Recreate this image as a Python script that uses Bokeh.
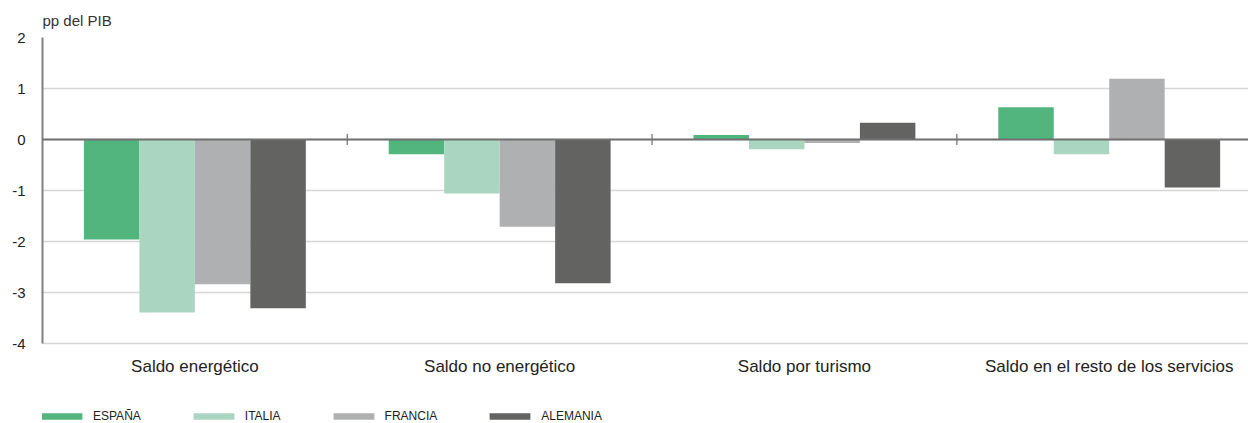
from bokeh.plotting import figure
from bokeh.models import (ColumnDataSource, FixedTicker, Span, Legend, LegendItem)
from bokeh.core.properties import value
from bokeh.embed import file_html
from bokeh.resources import INLINE

# ---------------- data ----------------
categories = ["Saldo energético", "Saldo no energético", "Saldo por turismo",
              "Saldo en el resto de los servicios"]
series_names = ["ESPAÑA", "ITALIA", "FRANCIA", "ALEMANIA"]
espana = [-1.96, -0.29, 0.09, 0.63]
italia = [-3.39, -1.06, -0.19, -0.29]
francia = [-2.84, -1.71, -0.07, 1.19]
alemania = [-3.31, -2.82, 0.33, -0.94]
y_ticks = [-4, -3, -2, -1, 0, 1, 2]
y_label = "pp del PIB"

colors = ["#52b57e", "#aad6c1", "#afb0b1", "#636361"]
series = [espana, italia, francia, alemania]

FONT = "Liberation Sans"

n_cat = len(categories)
bar_w = 0.182
centers = [i + 0.5 for i in range(n_cat)]
y_min, y_max = min(y_ticks), max(y_ticks)

# frame: 51 px per unit; extended below the axis to host labels + legend
px_per_unit = 51.0
frame_h = 386
y_start = y_max - frame_h / px_per_unit
label_y = y_min - 23 / px_per_unit

p = figure(frame_width=1206, frame_height=frame_h, output_backend="svg", toolbar_location=None,
           x_range=(0, 3.957), y_range=(y_start, y_max),
           min_border_left=42, min_border_right=0, min_border_top=37,
           min_border_bottom=0, x_axis_location=None, y_axis_location="left")
p.outline_line_color = None
p.background_fill_color = "white"
p.border_fill_color = "white"

# title
p.title.text = y_label
p.title.align = "left"
p.title.text_font = FONT
p.title.text_font_size = "15px"
p.title.text_font_style = "normal"
p.title.text_color = "#333333"
p.title.standoff = 17

# y axis
yax = p.yaxis[0]
yax.ticker = FixedTicker(ticks=y_ticks)
yax.bounds = (y_min, y_max)
yax.major_label_overrides = {t: str(t) for t in y_ticks}
yax.axis_line_color = "#808080"
yax.axis_line_width = 2
yax.major_tick_line_color = None
yax.major_tick_out = 0
yax.major_tick_in = 0
yax.minor_tick_line_color = None
yax.major_label_text_font = FONT
yax.major_label_text_font_size = "15px"
yax.major_label_text_color = "#222222"
yax.major_label_standoff = 17

p.ygrid.ticker = FixedTicker(ticks=y_ticks)
p.ygrid.grid_line_color = "#d6d6d6"
p.ygrid.grid_line_width = 1.5
p.xgrid.grid_line_color = None

# bars
renderers = []
for k, (vals, col) in enumerate(zip(series, colors)):
    off = (k - 1.5) * bar_w
    src = ColumnDataSource(dict(x=[c + off for c in centers], top=vals))
    r = p.vbar(x="x", top="top", bottom=0, width=bar_w, source=src,
               fill_color=col, line_color=None)
    renderers.append(r)

# zero line
p.add_layout(Span(location=0, dimension="width", line_color="#707070", line_width=2))

# category divider ticks on zero line
div_x = [float(i) for i in range(1, n_cat)]
p.segment(x0=div_x, x1=div_x, y0=[-0.11] * len(div_x), y1=[0.11] * len(div_x),
          line_color="#888888", line_width=1.5)

# category labels
lab_src = ColumnDataSource(dict(x=centers, y=[label_y] * n_cat, text=categories))
p.text(x="x", y="y", text="text", source=lab_src, text_align="center",
       text_baseline="middle", text_font=value(FONT), text_font_size="17px",
       text_color="#222222")

# legend
legend = Legend(items=[LegendItem(label=n, renderers=[r]) for n, r in zip(series_names, renderers)],
                orientation="horizontal", location=(-6, 0))
legend.glyph_width = 51
legend.glyph_height = 8
legend.label_standoff = 6
legend.spacing = 47
legend.padding = 0
legend.margin = 0
legend.label_height = 12
legend.label_text_font = FONT
legend.label_text_font_size = "12px"
legend.label_text_color = "#222222"
legend.border_line_color = None
legend.background_fill_alpha = 0
p.add_layout(legend, "center")

open("out.html", "w").write(file_html(p, INLINE))
